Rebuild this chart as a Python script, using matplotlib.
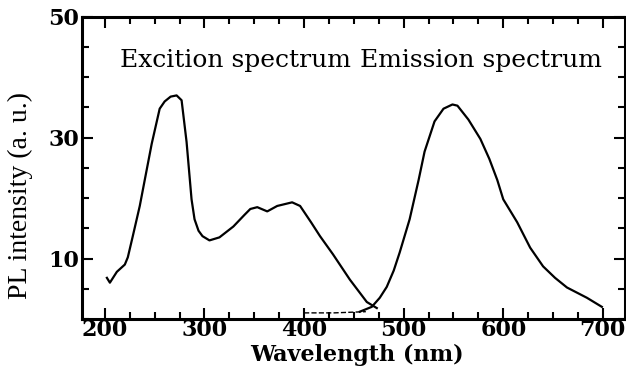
import numpy as np
import matplotlib.pyplot as plt
from matplotlib.ticker import MultipleLocator

# excitation spectrum
exc_nm = [202, 205, 212, 220, 223, 228, 235, 240, 247, 255, 260, 266, 272, 277,
          282, 287, 290, 294, 298, 305, 315, 329, 340, 346, 353, 363, 373, 388, 396, 407,
          416, 429, 446, 463, 473]
exc_val = [6.8, 6.0, 7.8, 9.0, 10.2, 13.7, 18.7, 23.0, 29.0, 34.8, 36.0, 36.8, 37.0, 36.2,
           29.3, 19.8, 16.5, 14.6, 13.7, 13.0, 13.5, 15.3, 17.2, 18.2, 18.5, 17.8, 18.7, 19.3, 18.7, 16.0,
           13.7, 10.7, 6.5, 2.8, 1.8]

# dashed tail under the excitation curve
tail_nm = [400, 430, 462]
tail_val = [1.0, 1.0, 1.2]

# emission spectrum
emi_nm = [456, 468, 476, 483, 490, 496, 506, 515, 521, 531, 540, 549, 554, 565, 577, 586, 594,
          600, 614, 627, 640, 652, 664, 684, 699]
emi_val = [1.2, 2.0, 3.5, 5.3, 8.0, 11.0, 16.5, 23.0, 27.7, 32.7, 34.8, 35.5, 35.3, 33.0, 29.8, 26.5, 23.0,
           19.8, 16.0, 11.8, 8.7, 6.8, 5.2, 3.5, 2.0]

x_ticks = [200, 300, 400, 500, 600, 700]
y_ticks = [10, 30, 50]

fig = plt.figure(figsize=(6.26, 3.67), dpi=100)
ax = fig.add_axes([0.131, 0.131, 0.867, 0.823])

ax.plot(exc_nm, exc_val, color='black', lw=1.6)
ax.plot(emi_nm, emi_val, color='black', lw=1.6)
ax.plot(tail_nm, tail_val, color='black', lw=1.0, ls='--')

ax.set_xlim(177, 722)
ax.set_ylim(0, 50)
ax.set_xticks(x_ticks)
ax.set_yticks(y_ticks)
ax.xaxis.set_minor_locator(MultipleLocator(25))
ax.yaxis.set_minor_locator(MultipleLocator(5))

tick_font = {'family': 'DejaVu Serif', 'size': 16, 'weight': 'bold'}
ax.set_xticklabels([str(t) for t in x_ticks], fontdict=tick_font)
ax.set_yticklabels([str(t) for t in y_ticks], fontdict=tick_font)

ax.tick_params(which='both', direction='in', top=True, right=True, width=1.5)
ax.tick_params(which='major', length=8, pad=2)
ax.tick_params(axis='x', which='major', pad=0)
ax.tick_params(which='minor', length=5)
for s in ax.spines.values():
    s.set_linewidth(2.2)

ax.set_xlabel('Wavelength (nm)', fontsize=16, fontweight='bold',
              family='DejaVu Serif')
ax.xaxis.set_label_coords(0.506, -0.082)
ax.set_ylabel('PL intensity (a. u.)', fontsize=20, family='Liberation Serif')
ax.yaxis.set_label_coords(-0.114, 0.41)
ax.yaxis.label.set_va('center')

fig.text(120 / 626, 1 - 60 / 367, 'Excition spectrum', fontsize=18,
         family='DejaVu Serif', va='center', ha='left')
fig.text(602 / 626, 1 - 61 / 367, 'Emission spectrum', fontsize=18,
         family='DejaVu Serif', va='center', ha='right')

fig.savefig('out.png', dpi=100)
